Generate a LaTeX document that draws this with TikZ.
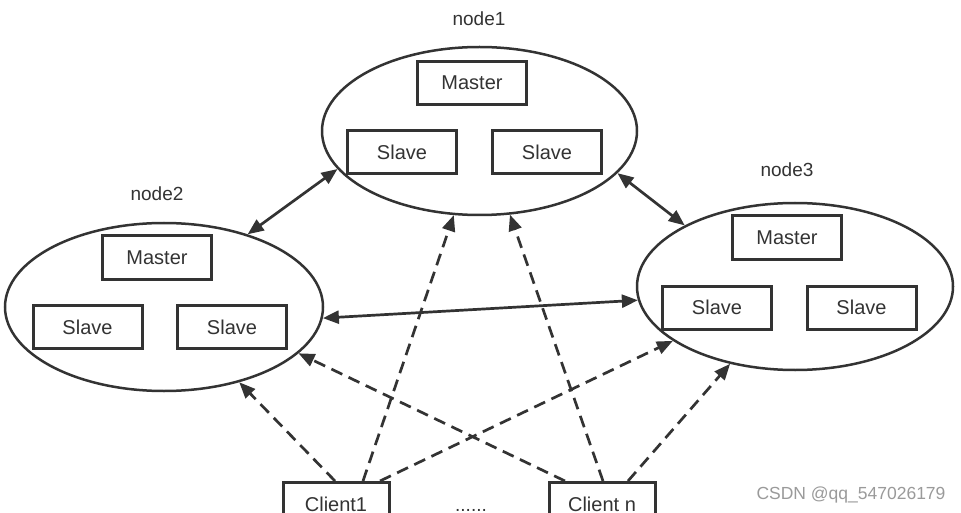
\documentclass[tikz,border=0pt]{standalone}
\usepackage{fontspec}
\setmainfont{Liberation Sans}
\usetikzlibrary{shapes.geometric,arrows.meta}
\definecolor{ink}{HTML}{333333}
\definecolor{wm}{HTML}{9A9A9A}
\tikzset{
  cluster/.style={draw=ink, line width=2.5pt, ellipse, inner sep=0pt},
  rolebox/.style={draw=ink, line width=3pt, rectangle, minimum width=109pt, minimum height=43pt, inner sep=0pt, text=ink, font=\fontsize{20}{24}\selectfont},
  lbl/.style={text=ink, font=\fontsize{19}{23}\selectfont, inner sep=0pt},
  link/.style={draw=ink, line width=2.7pt, {Triangle[length=16pt,width=13pt]}-{Triangle[length=16pt,width=13pt]}},
  req/.style={draw=ink, line width=2.7pt, dash pattern=on 12pt off 7pt, -{Triangle[length=16pt,width=13pt]}}
}
\begin{document}
\begin{tikzpicture}[x=1pt,y=-1pt]
\useasboundingbox (0,0) rectangle (961,513);
\clip (0,0) rectangle (961,513);
\fill[white] (0,0) rectangle (961,513);

% clusters
\node[cluster, minimum width=315pt, minimum height=168pt] (n1) at (479.5,131) {};
\node[cluster, minimum width=318pt, minimum height=168pt] (n2) at (164,307) {};
\node[cluster, minimum width=316pt, minimum height=167pt] (n3) at (795,286.5) {};

% labels
\node[lbl] (l1) at (479,19) {node1};
\node[lbl] (l2) at (157,194) {node2};
\node[lbl] (l3) at (787,170) {node3};

% node1 boxes
\node[rolebox] (m1) at (472,83) {Master};
\node[rolebox] (s1a) at (402,152) {Slave};
\node[rolebox] (s1b) at (547,152) {Slave};
% node2 boxes
\node[rolebox] (m2) at (157,257.5) {Master};
\node[rolebox] (s2a) at (87.5,327) {Slave};
\node[rolebox] (s2b) at (232,327) {Slave};
% node3 boxes
\node[rolebox] (m3) at (787,237.5) {Master};
\node[rolebox] (s3a) at (717,307.5) {Slave};
\node[rolebox] (s3b) at (861.5,307.5) {Slave};

% clients
\node[rolebox, minimum width=106pt] (c1) at (336,504) {Client1};
\node[rolebox, minimum width=106pt] (cn) at (602,504) {Client n};
\node[lbl] (dots) at (471,510) {......};

% watermark
\node[text=wm, font=\fontsize{17.5}{20}\selectfont, inner sep=0pt] (wmk) at (851,495) {CSDN @qq\_547026179};

% cluster links
\draw[link] (n2.41.7) -- (n1.195.6);
\draw[link] (n1.343.9) -- (n3.151.9);
\draw[link] (n2.-4.7) -- (n3.185.6);

% client requests
\draw[req] ([xshift=-1pt]c1.north) -- (n2.-45.4);
\draw[req] ([xshift=27pt]c1.north) -- (n1.253.7);
\draw[req] ([xshift=44pt]c1.north) -- (n3.204.1);
\draw[req] ([xshift=-37pt]cn.north) -- (n2.-19.7);
\draw[req] ([xshift=1pt]cn.north) -- (n1.-70.8);
\draw[req] ([xshift=26pt]cn.north) -- (n3.230.2);
\end{tikzpicture}
\end{document}
